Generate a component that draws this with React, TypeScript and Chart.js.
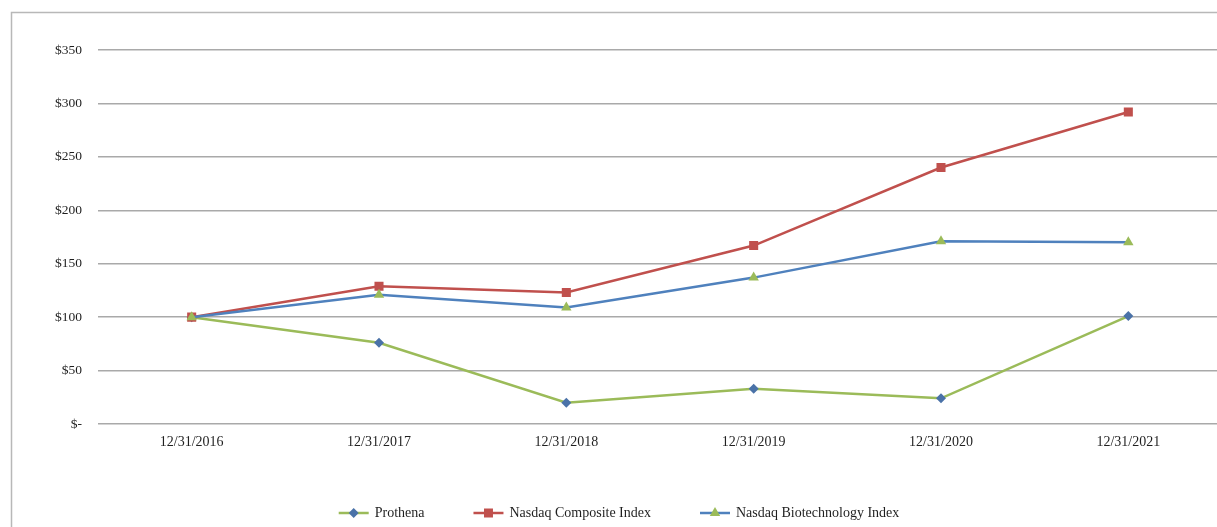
import React, { useEffect, useRef } from 'react';
import { Chart, registerables } from 'chart.js';

Chart.register(...registerables);

const categories = ['12/31/2016', '12/31/2017', '12/31/2018', '12/31/2019', '12/31/2020', '12/31/2021'];
const prothena = [100, 76, 20, 33, 24, 101];
const nasdaqComposite = [100, 129, 123, 167, 240, 292];
const nasdaqBiotech = [100, 121, 109, 137, 171, 170];
const seriesNames = ['Prothena', 'Nasdaq Composite Index', 'Nasdaq Biotechnology Index'];
const yMin = 0;
const yMax = 350;
const yStep = 50;

const GREEN = '#9BBB59';
const BLUE = '#4F81BD';
const RED = '#C0504D';
const MARKER_BLUE = '#4A72A8';
const FONT = '"Liberation Serif", "Times New Roman", serif';

function drawMarker(ctx: CanvasRenderingContext2D, style: string, x: number, y: number, color: string) {
  ctx.save();
  ctx.fillStyle = color;
  ctx.beginPath();
  if (style === 'rectRot') {
    const r = 5;
    ctx.moveTo(x, y - r);
    ctx.lineTo(x + r, y);
    ctx.lineTo(x, y + r);
    ctx.lineTo(x - r, y);
    ctx.closePath();
  } else if (style === 'rect') {
    ctx.rect(x - 4.5, y - 4.5, 9, 9);
  } else {
    const r = 6;
    ctx.moveTo(x, y - r);
    ctx.lineTo(x + r * 0.87, y + r * 0.5);
    ctx.lineTo(x - r * 0.87, y + r * 0.5);
    ctx.closePath();
  }
  ctx.fill();
  ctx.restore();
}

const framePlugin = {
  id: 'frame',
  beforeDraw(chart: any) {
    const ctx = chart.ctx as CanvasRenderingContext2D;
    ctx.save();
    ctx.fillStyle = '#ffffff';
    ctx.fillRect(0, 0, chart.width, chart.height);
    ctx.strokeStyle = '#b8b8b8';
    ctx.lineWidth = 1.5;
    ctx.strokeRect(11.5, 12.5, chart.width + 50, chart.height + 50);
    ctx.restore();
  },
};

const legendPlugin = {
  id: 'customLegend',
  afterDraw(chart: any) {
    const ctx = chart.ctx as CanvasRenderingContext2D;
    const datasets = chart.data.datasets;
    ctx.save();
    ctx.font = '14px ' + FONT;
    ctx.textBaseline = 'middle';
    const lineLen = 30;
    const textGap = 6;
    const itemGap = 49;
    const widths = datasets.map((d: any) => lineLen + textGap + ctx.measureText(d.label).width);
    const total = widths.reduce((a: number, b: number) => a + b, 0) + itemGap * (datasets.length - 1);
    let x = 619 - total / 2;
    const y = 513;
    datasets.forEach((d: any, i: number) => {
      ctx.strokeStyle = d.borderColor;
      ctx.lineWidth = 2.5;
      ctx.beginPath();
      ctx.moveTo(x, y);
      ctx.lineTo(x + lineLen, y);
      ctx.stroke();
      drawMarker(ctx, d.pointStyle, x + lineLen / 2, y, d.pointBackgroundColor);
      ctx.fillStyle = '#1f1f1f';
      ctx.fillText(d.label, x + lineLen + textGap, y);
      x += widths[i] + itemGap;
    });
    ctx.restore();
  },
};

export default function App() {
  const canvasRef = useRef<HTMLCanvasElement | null>(null);

  useEffect(() => {
    if (!canvasRef.current) return;
    const chart = new Chart(canvasRef.current, {
      type: 'line',
      data: {
        labels: categories,
        datasets: [
          {
            label: seriesNames[0],
            data: prothena,
            borderColor: GREEN,
            backgroundColor: GREEN,
            pointStyle: 'rectRot',
            pointRadius: 5,
            pointBackgroundColor: MARKER_BLUE,
            pointBorderColor: MARKER_BLUE,
            pointBorderWidth: 0,
            borderWidth: 2.5,
            tension: 0,
            order: 3,
          },
          {
            label: seriesNames[1],
            data: nasdaqComposite,
            borderColor: RED,
            backgroundColor: RED,
            pointStyle: 'rect',
            pointRadius: 6.4,
            pointBackgroundColor: RED,
            pointBorderColor: RED,
            pointBorderWidth: 0,
            borderWidth: 2.5,
            tension: 0,
            order: 2,
          },
          {
            label: seriesNames[2],
            data: nasdaqBiotech,
            borderColor: BLUE,
            backgroundColor: BLUE,
            pointStyle: 'triangle',
            pointRadius: 6,
            pointBackgroundColor: GREEN,
            pointBorderColor: GREEN,
            pointBorderWidth: 0,
            borderWidth: 2.5,
            tension: 0,
            order: 1,
          },
        ] as any,
      },
      options: {
        animation: false,
        responsive: true,
        maintainAspectRatio: false,
        layout: { padding: { top: 50, right: 8, left: 0, bottom: 0 } },
        plugins: {
          legend: { display: false },
          tooltip: { enabled: false },
        },
        scales: {
          x: {
            offset: true,
            grid: { display: false, drawTicks: false },
            border: { display: false },
            ticks: {
              color: '#1f1f1f',
              font: { family: FONT, size: 14 },
              padding: 10,
              maxRotation: 0,
              autoSkip: false,
            },
            afterFit(scale: any) {
              scale.height = 103;
            },
          },
          y: {
            min: yMin,
            max: yMax,
            grid: { color: '#a9a9a9', lineWidth: 1.5, drawTicks: false },
            border: { display: false },
            ticks: {
              stepSize: yStep,
              color: '#1f1f1f',
              font: { family: FONT, size: 13.5 },
              padding: 16,
              callback: (v: any) => (Number(v) === 0 ? '$-' : '$' + v),
            },
            afterFit(scale: any) {
              scale.width = 98;
            },
          },
        },
      },
      plugins: [framePlugin, legendPlugin],
    });
    return () => chart.destroy();
  }, []);

  return (
    <div style={{ position: 'fixed', left: 0, top: 0, width: 1217, height: 527, overflow: 'hidden', background: '#fff' }}>
      <div style={{ position: 'absolute', left: 0, top: 0, width: 1230, height: 527 }}>
        <canvas ref={canvasRef} />
      </div>
    </div>
  );
}
